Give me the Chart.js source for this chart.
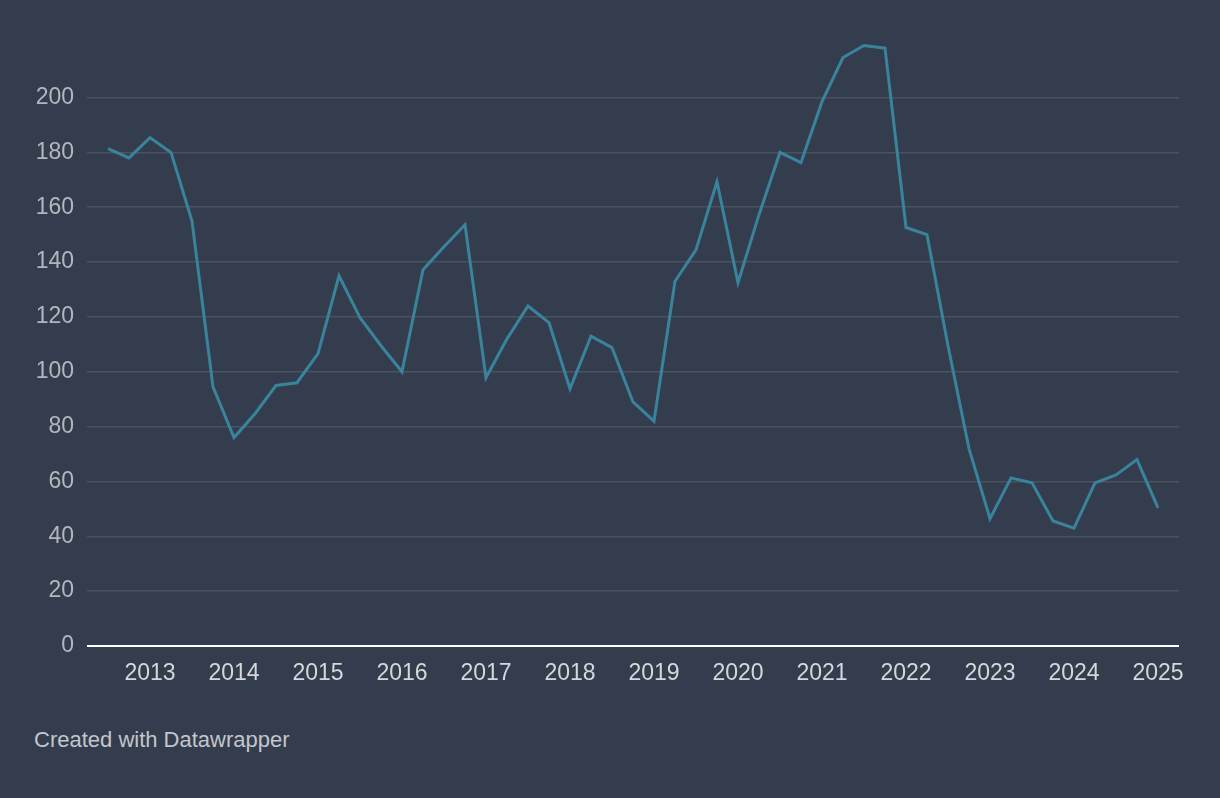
<!DOCTYPE html>
<html>
<head>
<meta charset="utf-8">
<script src="https://cdn.jsdelivr.net/npm/chart.js@4"></script>
<style>
  html, body { margin: 0; padding: 0; background: #333d4d; }
  #wrap { position: absolute; left: 0; top: 0; width: 1220px; height: 700px; }
  #credit {
    position: absolute; left: 34px; top: 727px;
    font-family: "Liberation Sans", Arial, sans-serif; font-size: 22px; color: #c3c6cb;
  }
</style>
</head>
<body>
<div id="wrap"><canvas id="chart"></canvas></div>
<div id="credit">Created with Datawrapper</div>
<script>
// quarterly values, 2012 Q3 .. 2025 Q1
const startYear = 2012;
const startQuarter = 3;
const values = [
  181.4, 178, 185.4, 180,
  155, 94.5, 76, 84.7,
  95, 96, 106.6, 135,
  119.7, 109.5, 100, 137.2,
  145.6, 153.6, 97.8, 112,
  124, 117.9, 93.8, 113,
  108.8, 89, 82, 133,
  144.5, 169.3, 132.5, 157.3,
  180, 176.3, 198.5, 214.6,
  219, 218, 152.6, 150,
  109.5, 72, 46.4, 61.3,
  59.5, 45.6, 43, 59.5,
  62.4, 68, 50.4
];
const yearTicks = [2013, 2014, 2015, 2016, 2017, 2018, 2019, 2020, 2021, 2022, 2023, 2024, 2025];
const valueTicks = [0, 20, 40, 60, 80, 100, 120, 140, 160, 180, 200];

const points = values.map((v, i) => ({
  x: startYear + (startQuarter - 1 + i) / 4,
  y: v
}));

const font = "'Liberation Sans', Arial, sans-serif";

new Chart(document.getElementById('chart'), {
  type: 'line',
  data: {
    datasets: [{
      data: points,
      borderColor: '#3a839c',
      borderWidth: 3,
      pointRadius: 0,
      tension: 0,
      fill: false
    }]
  },
  options: {
    responsive: true,
    maintainAspectRatio: false,
    animation: false,
    layout: { padding: { left: 0, right: 41, top: 29, bottom: 0 } },
    plugins: { legend: { display: false }, tooltip: { enabled: false } },
    scales: {
      x: {
        type: 'linear',
        min: 2012.25,
        max: 2025.25,
        afterBuildTicks: s => { s.ticks = yearTicks.map(v => ({ value: v })); },
        afterFit: s => { s.height = 54; },
        grid: { display: false },
        border: { display: false },
        ticks: {
          color: '#d5d7da',
          font: { family: font, size: 23 },
          padding: 6,
          maxRotation: 0,
          autoSkip: false,
          callback: v => String(v)
        }
      },
      y: {
        min: 0,
        max: 225,
        afterBuildTicks: s => { s.ticks = valueTicks.map(v => ({ value: v })); },
        afterFit: s => { s.width = 87; },
        border: { display: false },
        grid: {
          drawTicks: false,
          color: c => c.tick.value === 0 ? '#ffffff' : '#4a525f',
          lineWidth: c => c.tick.value === 0 ? 2 : 1.5
        },
        ticks: {
          color: '#b3b7bd',
          font: { family: font, size: 23 },
          padding: 13
        }
      }
    }
  }
});
</script>
</body>
</html>
